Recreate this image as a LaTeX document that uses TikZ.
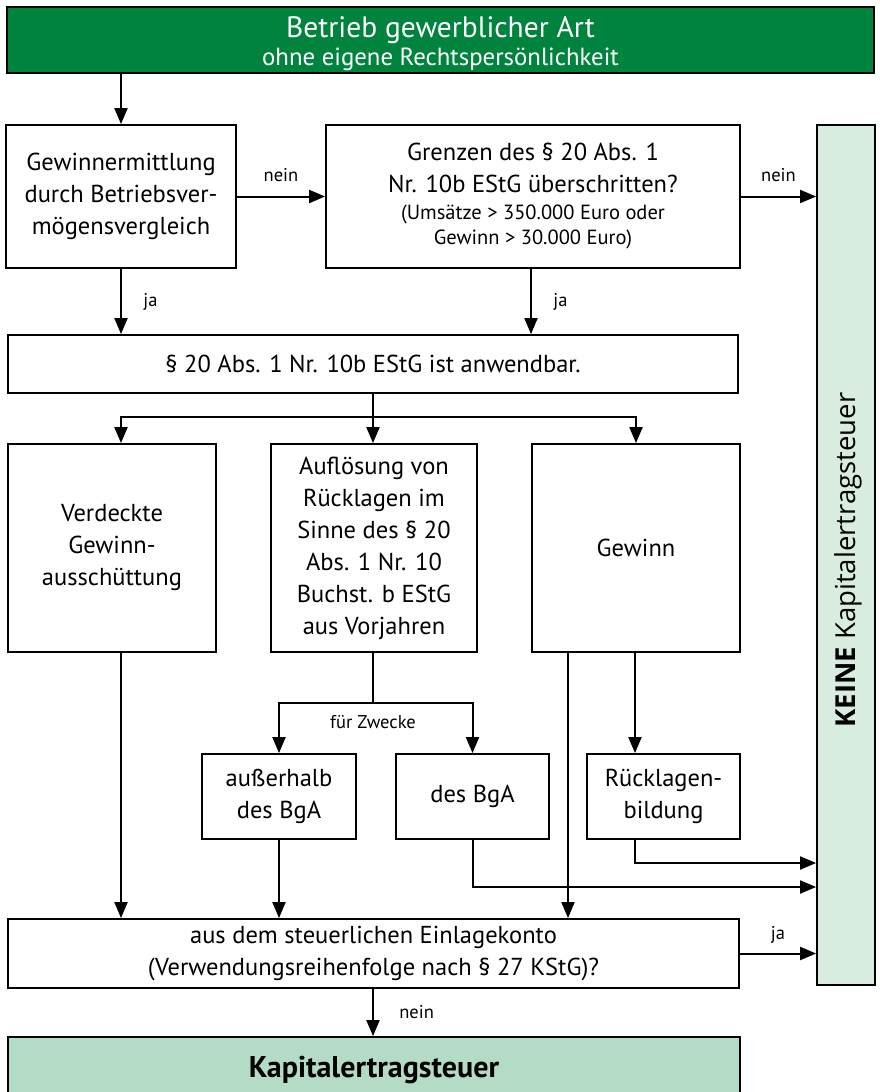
\documentclass[tikz,border=0pt]{standalone}
\usepackage{fontspec}
\setmainfont{PT Sans}
\newfontfamily\keinefont{Open Sans}
\usetikzlibrary{arrows.meta}

\definecolor{bgagreen}{HTML}{00843D}
\definecolor{keinegreen}{HTML}{D8ECE0}
\definecolor{kestgreen}{HTML}{B3DBC6}

\tikzset{
  box/.style={draw, line width=1.8pt, align=center, inner sep=2pt,
    font=\fontsize{24.5}{32}\selectfont},
  pfeil/.style={-{Triangle[length=16pt,width=13pt]}, line width=2pt},
  linie/.style={line width=2pt},
  lbl/.style={font=\fontsize{18.5}{21}\selectfont}
}

\begin{document}
\begin{tikzpicture}[x=1pt,y=-1pt]
% Rahmen in Pixelmass
\useasboundingbox (0,0) rectangle (879,1092);

% Kopf
\node[box, fill=bgagreen, text=white, minimum width=867pt, minimum height=66pt,
  text height=57pt, font=\fontsize{29.5}{28}\selectfont] (bga) at (440.5,40)
  {Betrieb gewerblicher Art\\{\fontsize{24.8}{27}\selectfont ohne eigene Rechtspersönlichkeit}};

% erste Reihe
\node[box, minimum width=230pt, minimum height=143pt] (gewerm) at (121,196.5)
  {Gewinnermittlung\\durch Betriebsver-\\mögensvergleich};
\node[box, minimum width=414pt, minimum height=143pt] (grenzen) at (533,196.5)
  {Grenzen des § 20 Abs. 1\\Nr. 10b EStG überschritten?\\[-5pt]
   {\fontsize{20.5}{25}\selectfont (Umsätze > 350.000 Euro oder}\\[-7pt]
   {\fontsize{20.5}{25}\selectfont Gewinn > 30.000 Euro)}};
\node[box, fill=keinegreen, minimum width=58pt, minimum height=860pt] (keine) at (846,555) {};
\node[rotate=90, font=\keinefont\fontsize{27.5}{30}\selectfont] (keinetxt) at (848,560)
  {\textbf{KEINE} Kapitalertragsteuer};

% anwendbar
\node[box, minimum width=730pt, minimum height=58pt] (anw) at (373,364)
  {§ 20 Abs. 1 Nr. 10b EStG ist anwendbar.};

% drei Faelle
\node[box, minimum width=208pt, minimum height=208pt] (vga) at (112,548)
  {Verdeckte\\Gewinn-\\ausschüttung};
\node[box, minimum width=206pt, minimum height=208pt] (aufl) at (374,548)
  {Auflösung von\\Rücklagen im\\Sinne des § 20\\Abs. 1 Nr. 10\\Buchst. b EStG\\aus Vorjahren};
\node[box, minimum width=208pt, minimum height=208pt] (gewinn) at (636,548) {Gewinn};

% untere Reihe
\node[box, minimum width=154pt, minimum height=85pt] (ausserh) at (279,796.5)
  {außerhalb\\des BgA};
\node[box, minimum width=153pt, minimum height=85pt] (desbga) at (472.5,796.5) {des BgA};
\node[box, minimum width=153pt, minimum height=85pt] (rueckl) at (663.5,796.5)
  {Rücklagen-\\bildung};

% Einlagekonto und KapESt
\node[box, minimum width=731pt, minimum height=69pt] (einlage) at (373.5,953.5)
  {aus dem steuerlichen Einlagekonto\\(Verwendungsreihenfolge nach § 27 KStG)?};
\node[box, fill=kestgreen, minimum width=732pt, minimum height=66pt,
  font=\bfseries\fontsize{30}{32}\selectfont] (kest) at (374,1070) {Kapitalertragsteuer};

% Hilfspunkte
\coordinate (verz1) at (373,417);
\coordinate (verz2) at (373,703);
\coordinate (gewl) at (568,652);
\coordinate (rueckp) at (635,863);
\coordinate (despt) at (472.5,887);

% Verbindungen oben
\draw[pfeil] (bga.south -| gewerm) -- (gewerm.north);
\draw[pfeil] (gewerm.east) -- node[lbl, above=10pt] {nein} (grenzen.west);
\draw[pfeil] (grenzen.east) -- node[lbl, above=10pt] {nein} (keine.west |- grenzen.east);
\draw[pfeil] (gewerm.south) -- node[lbl, right=18pt] {ja} (anw.north -| gewerm.south);
\draw[pfeil] (grenzen.south -| 531,0) -- node[lbl, right=18pt] {ja} (anw.north -| 531,0);

% Verteilung auf die drei Faelle
\draw[linie] (anw.south -| verz1) -- (verz1);
\draw[pfeil] (verz1) -| (vga.north -| gewerm.south);
\draw[pfeil] (verz1) -- (aufl.north -| verz1);
\draw[pfeil] (verz1) -| (gewinn.north);

% Aufloesung von Ruecklagen
\draw[linie] (aufl.south -| verz2) -- (verz2);
\draw[pfeil] (verz2) -| (ausserh.north);
\draw[pfeil] (verz2) -| (desbga.north);
\node[lbl] (zwecke) at (373,722) {für Zwecke};

% Gewinn
\draw[pfeil] (gewinn.south -| rueckp) -- (rueckl.north -| rueckp);
\draw[pfeil] (gewl) -- (einlage.north -| gewl);
\draw[pfeil] (rueckl.south -| rueckp) -- (rueckp) -- (keine.west |- rueckp);
\draw[pfeil] (desbga.south) -- (despt) -- (keine.west |- despt);

% in das Einlagekonto
\draw[pfeil] (vga.south -| gewerm.south) -- (einlage.north -| gewerm.south);
\draw[pfeil] (ausserh.south) -- (einlage.north -| ausserh.south);

% Ergebnis
\draw[pfeil] (einlage.east) -- node[lbl, above=6pt] {ja} (keine.west |- einlage.east);
\draw[pfeil] (einlage.south -| verz1) -- node[lbl, right=22pt] {nein} (kest.north -| verz1);
\end{tikzpicture}
\end{document}
